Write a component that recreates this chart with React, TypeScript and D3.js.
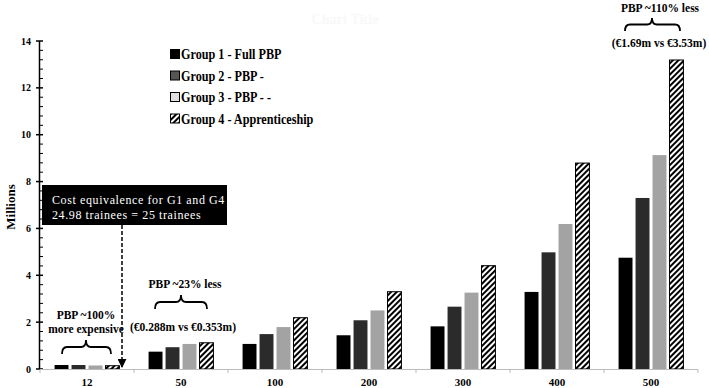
import React from "react";
import * as d3 from "d3";

// Number of trainees per scenario
const categories = ["12", "50", "100", "200", "300", "400", "500"];

// Total training cost (millions) per scenario, one array per group
const group1 = [0.17, 0.74, 1.07, 1.44, 1.82, 3.29, 4.75];
const group2 = [0.17, 0.93, 1.49, 2.08, 2.66, 4.98, 7.3];
const group3 = [0.15, 1.07, 1.79, 2.5, 3.26, 6.19, 9.13];
const group4 = [0.14, 1.12, 2.19, 3.3, 4.41, 8.79, 13.19];

const seriesNames = [
  "Group 1 - Full PBP",
  "Group 2 - PBP -",
  "Group 3 - PBP - -",
  "Group 4 - Apprenticeship",
];
const seriesValues = [group1, group2, group3, group4];
const yTicks = [0, 2, 4, 6, 8, 10, 12, 14];

const W = 709;
const H = 388;
const FONT = "'Liberation Serif', 'Times New Roman', serif";

const fills = ["#000000", "#2b2b2b", "#a3a3a3", "url(#hatch)"];

// Curly brace whose tip points up at (cx, top); ends at x1, x2 on the bottom
function bracePath(x1: number, x2: number, cx: number, top: number, h: number) {
  const m = top + h / 2;
  const b = top + h;
  const r = 5;
  return `M${x1},${b} Q${x1},${m} ${x1 + r},${m} L${cx - r},${m} Q${cx},${m} ${cx},${top} Q${cx},${m} ${cx + r},${m} L${x2 - r},${m} Q${x2},${m} ${x2},${b}`;
}

export default function App() {
  const x0 = d3
    .scaleBand<string>()
    .domain(categories)
    .range([40, 698])
    .paddingInner(0.31)
    .paddingOuter(0.155);
  const x1 = d3
    .scaleBand<number>()
    .domain([0, 1, 2, 3])
    .range([0, x0.bandwidth()])
    .paddingInner(0.18);
  const y = d3.scaleLinear().domain([0, 14]).range([369, 41]);

  const step = x0.step();
  const minorTicks = d3.range(0, 14.001, 0.4).filter((v) => Math.abs(v / 2 - Math.round(v / 2)) > 0.01);

  const cx = (c: string) => (x0(c) as number) + x0.bandwidth() / 2;

  return (
    <svg
      width={W}
      height={H}
      style={{ position: "absolute", left: 0, top: 0, background: "#fff" }}
      fontFamily={FONT}
    >
      <defs>
        <pattern id="hatch" width={4} height={4} patternUnits="userSpaceOnUse" patternTransform="rotate(45)">
          <rect width={4} height={4} fill="#fff" />
          <rect x={0} width={2} height={4} fill="#000" />
        </pattern>
        <marker id="arrow" viewBox="0 0 10 10" refX={9} refY={5} markerWidth={6} markerHeight={6} orient="auto">
          <path d="M0,0 L10,5 L0,10 Z" fill="#000" />
        </marker>
      </defs>

      <text x={345} y={24} fontSize={14} fontWeight="bold" fill="#f8f8f8" textAnchor="middle">
        Chart Title
      </text>

      {/* bars */}
      {categories.map((c, ci) => (
        <g key={c} transform={`translate(${x0(c)},0)`}>
          {seriesValues.map((vals, si) => (
            <rect
              key={si}
              x={x1(si)}
              y={y(vals[ci])}
              width={x1.bandwidth()}
              height={y(0) - y(vals[ci])}
              fill={fills[si]}
              stroke={si === 3 ? "#000" : "none"}
              strokeWidth={1}
            />
          ))}
        </g>
      ))}

      {/* y axis */}
      <line x1={39.5} x2={39.5} y1={y(14)} y2={y(0)} stroke="#000" strokeWidth={1.5} />
      {yTicks.map((t) => (
        <g key={t}>
          <line x1={36} x2={43} y1={y(t)} y2={y(t)} stroke="#000" strokeWidth={1.5} />
          <text x={31} y={y(t) + 3.5} fontSize={10} fontWeight="bold" textAnchor="end">
            {t}
          </text>
        </g>
      ))}
      {minorTicks.map((t) => (
        <line key={t} x1={39.5} x2={43} y1={y(t)} y2={y(t)} stroke="#000" strokeWidth={1} />
      ))}
      <text
        transform={`translate(15,${(y(0) + y(14)) / 2 + 2}) rotate(-90)`}
        fontSize={13}
        fontWeight="bold"
        textAnchor="middle"
      >
        Millions
      </text>

      {/* x axis */}
      <line x1={40} x2={698} y1={369.5} y2={369.5} stroke="#bbb" strokeWidth={1} />
      {d3.range(categories.length + 1).map((i) => (
        <line key={i} x1={40 + i * step} x2={40 + i * step} y1={369.5} y2={373} stroke="#bbb" />
      ))}
      {categories.map((c) => (
        <text key={c} x={cx(c)} y={386} fontSize={11} fontWeight="bold" textAnchor="middle">
          {c}
        </text>
      ))}

      {/* legend */}
      {seriesNames.map((n, i) => (
        <g key={n} transform={`translate(170,${49 + i * 21.5})`}>
          <rect
            x={0.5}
            y={0.5}
            width={9}
            height={9}
            fill={i === 2 ? "#e0e0e0" : i === 1 ? "#555" : fills[i]}
            stroke="#000"
            strokeWidth={1}
          />
          <text transform="translate(11,10) scale(0.84,1)" fontSize={14.5} fontWeight="bold">
            {n}
          </text>
        </g>
      ))}

      {/* cost-equivalence callout */}
      <rect x={42} y={185} width={185} height={40} fill="#000" />
      <text x={52} y={204} fontSize={12} fill="#fff" letterSpacing={0.6}>
        Cost equivalence for G1 and G4
      </text>
      <text x={52} y={219} fontSize={12} fill="#fff" letterSpacing={0.6}>
        24.98 trainees = 25 trainees
      </text>
      <line
        x1={122}
        x2={122}
        y1={225}
        y2={367}
        stroke="#000"
        strokeWidth={1.5}
        strokeDasharray="4,2"
        markerEnd="url(#arrow)"
      />

      {/* annotations */}
      <g fontSize={11.5} fontWeight="bold" textAnchor="middle">
        <text x={86} y={319}>PBP ~100%</text>
        <text x={86} y={333}>more expensive</text>
        <path d={bracePath(62, 111, 86, 340, 14)} fill="none" stroke="#000" strokeWidth={1.8} />

        <text x={185} y={288}>PBP ~23% less</text>
        <path d={bracePath(155, 207, 181, 295, 14)} fill="none" stroke="#000" strokeWidth={1.8} />
        <text x={183} y={331}>(€0.288m vs €0.353m)</text>

        <text x={660} y={12}>PBP ~110% less</text>
        <path d={bracePath(625, 680, 652, 18, 13)} fill="none" stroke="#000" strokeWidth={1.8} />
        <text x={659} y={47}>(€1.69m vs €3.53m)</text>
      </g>
    </svg>
  );
}
